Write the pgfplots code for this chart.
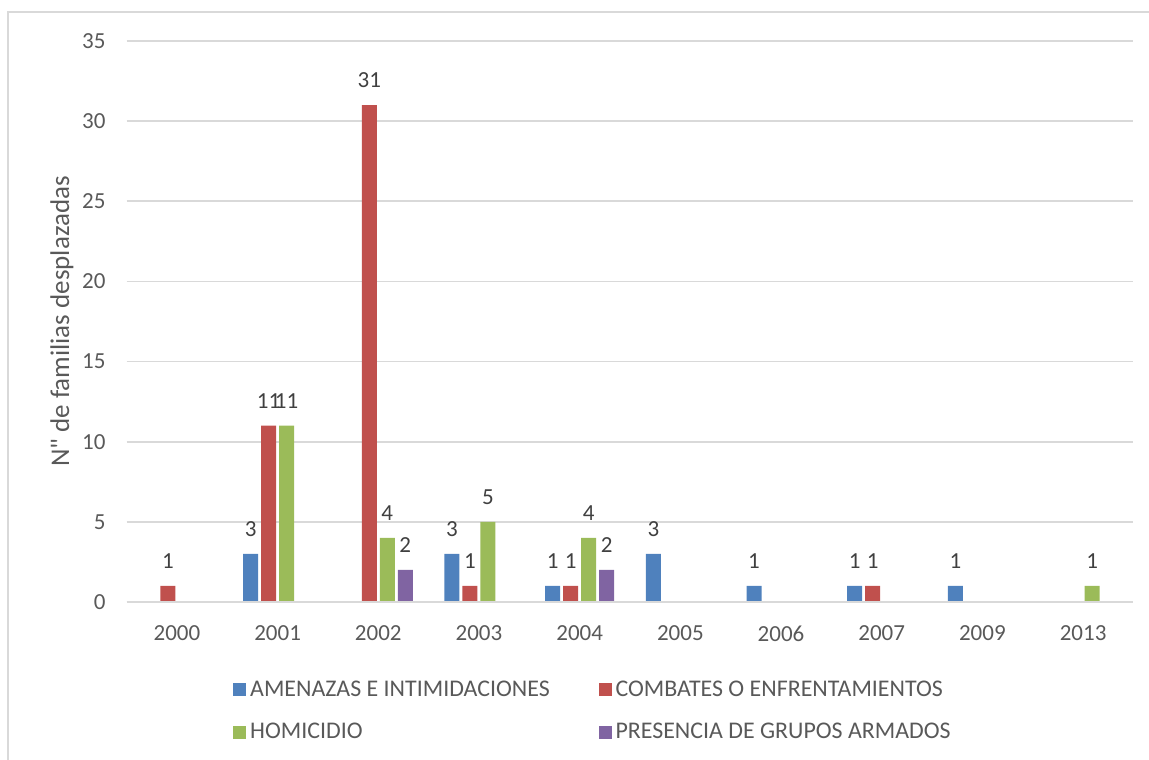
\documentclass[border=0pt]{standalone}
\usepackage{fontspec}
\setmainfont{Carlito}[Ligatures=TeXOff]
\usepackage{pgfplots}
\pgfplotsset{compat=1.18}
\definecolor{cblue}{HTML}{4F81BD}
\definecolor{cred}{HTML}{C0504D}
\definecolor{cgreen}{HTML}{9BBB59}
\definecolor{cpurple}{HTML}{8064A2}
\definecolor{cgrid}{HTML}{D9D9D9}
\definecolor{ctext}{HTML}{595959}
\definecolor{clabel}{HTML}{404040}
\begin{document}
\begin{tikzpicture}
\path[use as bounding box] (-63.3pt,-78.5pt) rectangle (511.2pt,301pt);
\draw[cgrid, line width=0.8pt] (-59.3pt,-90pt) -- (-59.3pt,295pt) -- (530pt,295pt);
\begin{axis}[
  scale only axis,
  width=503.4pt, height=280.5pt,
  xmin=-0.5, xmax=9.5, ymin=0, ymax=35,
  ytick={0,5,...,35},
  xtick={0,...,9},
  xticklabels={2000,2001,2002,2003,2004,2005,2006,2007,2009,2013},
  major tick length=0pt,
  axis line style={draw=none},
  ymajorgrids, grid style={cgrid, line width=0.8pt},
  tick label style={font=\fontsize{11.5}{13.5}\selectfont, color=ctext},
  /pgf/number format/assume math mode=true,
  xticklabel style={yshift=-8.5pt},
  yticklabel style={xshift=-7pt},
  ylabel={N" de familias desplazadas},
  ylabel style={font=\fontsize{13.5}{16}\selectfont, color=ctext, at={(axis description cs:-0.0642,0.5)}, anchor=center},
  ybar=1.5pt, bar width=7.5pt,
  nodes near coords,
  every node near coord/.append style={font=\fontsize{11.5}{13.5}\selectfont, color=clabel, yshift=5.3pt},
  legend columns=2,
  legend cell align=left,
  legend image code/.code={\fill[#1,draw=none] (0pt,-3.2pt) rectangle (6.4pt,3.2pt);},
  legend style={draw=none, fill=none, at={(axis description cs:0.0997,-0.125)}, anchor=north west,
    font=\fontsize{11.95}{14}\selectfont, text=ctext, row sep=8pt,
    /tikz/every even column/.append style={column sep=22.5pt},
    nodes={inner xsep=2pt}},
]
\addplot[fill=cblue, draw=none] coordinates {(1,3) (3,3) (4,1) (5,3) (6,1) (7,1) (8,1)};
\addplot[fill=cred, draw=none] coordinates {(0,1) (1,11) (2,31) (3,1) (4,1) (7,1)};
\addplot[fill=cgreen, draw=none] coordinates {(1,11) (2,4) (3,5) (4,4) (9,1)};
\addplot[fill=cpurple, draw=none] coordinates {(2,2) (4,2)};
\draw[cgrid, line width=0.8pt] (axis cs:-0.5,0) -- (axis cs:9.5,0);
\legend{AMENAZAS E INTIMIDACIONES, COMBATES O ENFRENTAMIENTOS, HOMICIDIO, PRESENCIA DE GRUPOS ARMADOS}
\end{axis}
\end{tikzpicture}
\end{document}
